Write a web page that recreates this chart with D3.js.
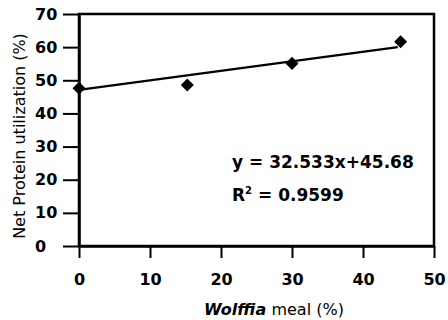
<!DOCTYPE html>
<html>
<head>
<meta charset="utf-8">
<script src="https://cdn.jsdelivr.net/npm/d3@7"></script>
<style>
  body { margin: 0; background: #fff; }
  text { font-family: "DejaVu Sans", sans-serif; fill: #000; }
</style>
</head>
<body>
<div id="chart"></div>
<script>
// data
const mealPct = [0, 15.25, 30, 45.3];
const npu = [47.6, 48.6, 55.1, 61.6];
const trendX = [0, 44.9];
const trendY = [47.1, 60.0];
const xTicks = [0, 10, 20, 30, 40, 50];
const yTicks = [0, 10, 20, 30, 40, 50, 60, 70];

const width = 448;
const height = 320;
const margin = { top: 14, right: 14, bottom: 74, left: 79 };

const svg = d3.select("#chart")
  .append("svg")
  .attr("width", width)
  .attr("height", height);

const x = d3.scaleLinear()
  .domain([0, 50])
  .range([margin.left, width - margin.right]);

const y = d3.scaleLinear()
  .domain([0, 70])
  .range([height - margin.bottom, margin.top]);

// box round the plot
svg.append("rect")
  .attr("x", x(0))
  .attr("y", y(70))
  .attr("width", x(50) - x(0))
  .attr("height", y(0) - y(70))
  .attr("fill", "none")
  .attr("stroke", "#000")
  .attr("stroke-width", 2.5);

const xAxis = svg.append("g")
  .attr("transform", `translate(0,${y(0)})`)
  .call(d3.axisBottom(x).tickValues(xTicks).tickSize(12).tickPadding(16).tickSizeOuter(0));

const yAxis = svg.append("g")
  .attr("transform", `translate(${x(0)},0)`)
  .call(d3.axisLeft(y).tickValues(yTicks).tickSize(16).tickPadding(6).tickSizeOuter(0));

[xAxis, yAxis].forEach(g => {
  g.select(".domain").attr("stroke-width", 2.5);
  g.selectAll(".tick line").attr("stroke-width", 2);
  g.selectAll(".tick text")
    .attr("font-family", "DejaVu Sans")
    .attr("font-weight", "bold")
    .attr("font-size", 16);
});

// y labels sit flush left in the original
yAxis.selectAll(".tick text")
  .attr("text-anchor", "start")
  .attr("x", 35 - margin.left);

// trend line
const line = d3.line()
  .x(d => x(d[0]))
  .y(d => y(d[1]));

svg.append("path")
  .datum(d3.zip(trendX, trendY))
  .attr("fill", "none")
  .attr("stroke", "#000")
  .attr("stroke-width", 2.2)
  .attr("d", line);

// points
svg.selectAll(".pt")
  .data(d3.zip(mealPct, npu))
  .enter()
  .append("path")
  .attr("class", "pt")
  .attr("transform", d => `translate(${x(d[0])},${y(d[1])}) rotate(45)`)
  .attr("d", d3.symbol(d3.symbolSquare, 85))
  .attr("fill", "#000");

// equation
svg.append("text")
  .attr("x", 232)
  .attr("y", 168)
  .attr("font-weight", "bold")
  .attr("font-size", 17)
  .text("y = 32.533x+45.68");

const r2 = svg.append("text")
  .attr("x", 232)
  .attr("y", 201)
  .attr("font-weight", "bold")
  .attr("font-size", 17);
r2.append("tspan").text("R");
r2.append("tspan").attr("font-size", 10).attr("dy", -7).text("2");
r2.append("tspan").attr("dy", 7).text(" = 0.9599");

// axis titles
const xt = svg.append("text")
  .attr("x", 274)
  .attr("y", 315)
  .attr("text-anchor", "middle")
  .attr("font-size", 16);
xt.append("tspan").attr("font-weight", "bold").attr("font-style", "italic").text("Wolffia");
xt.append("tspan").text(" meal (%)");

svg.append("text")
  .attr("transform", "translate(25,136) rotate(-90)")
  .attr("text-anchor", "middle")
  .attr("font-size", 16)
  .text("Net Protein utilization (%)");
</script>
</body>
</html>
